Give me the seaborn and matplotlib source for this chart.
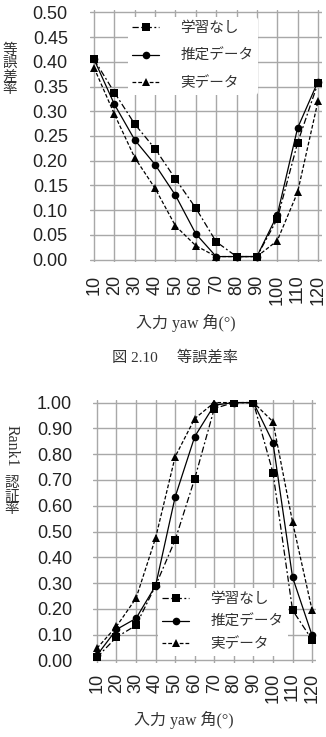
import matplotlib
matplotlib.use("Agg")
import matplotlib.pyplot as plt
import seaborn as sns
import pandas as pd

angles = ["10", "20", "30", "40", "50", "60", "70", "80", "90", "100", "110", "120"]
series_names = ["学習なし", "推定データ", "実データ"]

eer_none = [0.405, 0.338, 0.274, 0.224, 0.163, 0.104, 0.036, 0.006, 0.006, 0.082, 0.236, 0.357]
eer_est = [0.405, 0.314, 0.242, 0.192, 0.130, 0.052, 0.006, 0.006, 0.006, 0.090, 0.266, 0.360]
eer_real = [0.388, 0.294, 0.206, 0.144, 0.068, 0.028, 0.006, 0.006, 0.006, 0.038, 0.136, 0.320]

r1_none = [0.012, 0.090, 0.136, 0.290, 0.467, 0.705, 0.977, 1.000, 1.000, 0.728, 0.195, 0.080]
r1_est = [0.020, 0.120, 0.163, 0.290, 0.634, 0.868, 0.990, 1.000, 1.000, 0.845, 0.323, 0.097]
r1_real = [0.047, 0.132, 0.241, 0.475, 0.790, 0.938, 1.000, 1.000, 1.000, 0.926, 0.537, 0.195]

eer_ticks = [0.0, 0.05, 0.10, 0.15, 0.20, 0.25, 0.30, 0.35, 0.40, 0.45, 0.50]
r1_ticks = [0.0, 0.1, 0.2, 0.3, 0.4, 0.5, 0.6, 0.7, 0.8, 0.9, 1.0]

sns.set_theme(style="white")
plt.rcParams['font.family'] = ['Liberation Sans', 'Noto Sans CJK JP', 'DejaVu Sans']

W, H = 326, 737
fig = plt.figure(figsize=(W / 100, H / 100), dpi=100)
TXT = "#333333"
serif_jp = ['Liberation Serif', 'Noto Sans CJK JP']


def axes_px(x0, x1, ytop, ybot):
    return fig.add_axes([x0 / W, 1 - ybot / H, (x1 - x0) / W, (ybot - ytop) / H])


def long_df(vals):
    rows = []
    for name, v in zip(series_names, vals):
        for i, y in enumerate(v):
            rows.append({"x": i, "y": y, "s": name})
    return pd.DataFrame(rows)


markers = {"学習なし": "s", "推定データ": "o", "実データ": "^"}
dashes = {"学習なし": (5, 2, 1.5, 2), "推定データ": "", "実データ": (3, 1.6)}
palette = {n: "black" for n in series_names}


def draw(ax, vals, ylim, yticks, ypad, xpad, leg_xy, leg_spacing):
    df = long_df(vals)
    sns.lineplot(data=df, x="x", y="y", hue="s", style="s", markers=markers,
                 dashes=dashes, palette=palette, hue_order=series_names,
                 style_order=series_names, markersize=5.5, linewidth=0.9,
                 markeredgewidth=0, ax=ax)
    ax.set_xlim(-0.2, 11.2)
    ax.set_ylim(*ylim)
    ax.set_xticks(range(len(angles)))
    ax.set_xticklabels(angles, rotation=90, fontsize=13)
    ax.set_yticks(yticks)
    ax.set_yticklabels(["{:.2f}".format(t) for t in yticks], fontsize=13)
    ax.grid(True, color="#a8a8a8", linewidth=1.0)
    for sp in ax.spines.values():
        sp.set_visible(False)
    ax.tick_params(axis="y", length=0, pad=ypad, colors="#222222")
    ax.tick_params(axis="x", length=0, pad=xpad, colors="#222222")
    ax.set_xlabel("")
    ax.set_ylabel("")
    leg = ax.legend(loc="upper left", bbox_to_anchor=(leg_xy[0] / W, 1 - leg_xy[1] / H),
                    bbox_transform=fig.transFigure, frameon=True,
                    facecolor="white", edgecolor="none", framealpha=1,
                    prop={'family': serif_jp, 'size': 10.5}, handlelength=1.8,
                    handletextpad=1.5, labelspacing=leg_spacing, borderpad=0.3,
                    borderaxespad=0)
    for t in leg.get_texts():
        t.set_color(TXT)
    return ax


ax1 = axes_px(90, 322, 10, 262)
draw(ax1, [eer_none, eer_est, eer_real], (-0.005, 0.505), eer_ticks,
     16, 9, (128, 17), 0.95)

ax2 = axes_px(93, 316, 400, 663)
draw(ax2, [r1_none, r1_est, r1_real], (-0.01, 1.01), r1_ticks,
     15, 7, (158, 588), 0.6)

# axis labels and caption
fig.text(186 / W, 1 - 323 / H, "入力 yaw 角(°)", ha="center", va="center",
         fontsize=11.5, family=serif_jp, color=TXT)
fig.text(175 / W, 1 - 357 / H, "図 2.10　 等誤差率", ha="center", va="center",
         fontsize=11, family=serif_jp, color=TXT)
fig.text(184 / W, 1 - 720 / H, "入力 yaw 角(°)", ha="center", va="center",
         fontsize=11.5, family=serif_jp, color=TXT)

fig.text(10 / W, 1 - 70 / H, "等\n誤\n差\n率", ha="center", va="center",
         fontsize=10.5, family=serif_jp, color=TXT, linespacing=1.0)
fig.text(12 / W, 1 - 446 / H, "Rank1", ha="center", va="center", rotation=-90,
         fontsize=11.5, family=serif_jp, color=TXT)
fig.text(12 / W, 1 - 497 / H, "認\n証\n率", ha="center", va="center",
         fontsize=10.5, family=serif_jp, color=TXT, linespacing=1.0)

fig.savefig("out.png", dpi=100, facecolor="white")
